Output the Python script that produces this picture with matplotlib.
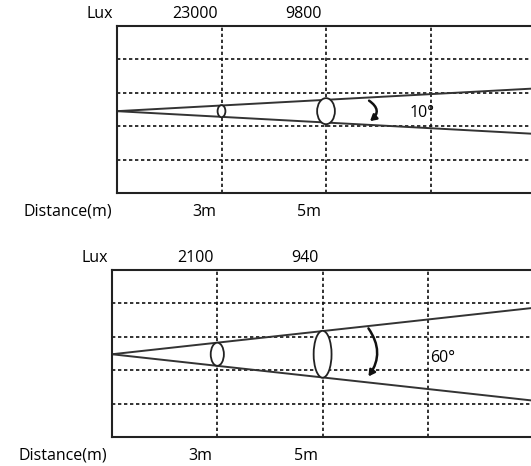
import matplotlib
matplotlib.use('Agg')
from matplotlib import pyplot as plt
from matplotlib.patches import Ellipse, FancyArrowPatch
import matplotlib.transforms as mtransforms

plt.rcParams['font.family'] = ['Open Sans', 'DejaVu Sans']

# values
distances = [3, 5]
dist_labels = ['3m', '5m']
lux_10 = ['23000', '9800']
lux_60 = ['2100', '940']
angles = ['10°', '60°']
grid_x = [3, 5, 7]
grid_y = [1, 2, 3, 4]

# beam: apex height, half-spread per metre, ellipse sizes (w, h) at 3m and 5m
apex_y = [2.45, 2.47]
spread = [0.085, 0.173]
ell_w = [[0.15, 0.34], [0.25, 0.34]]
ell_h = [[0.36, 0.78], [0.69, 1.40]]
arrow_ends = [[(5.78, 2.81), (5.80, 2.10)], [(5.84, 3.31), (5.84, 1.74)]]
arrow_rad = [-0.75, -0.38]
angle_pos = [(6.6, 2.4), (7.04, 2.37)]

FS = 11.5
W, H = 531, 466
fig = plt.figure(figsize=(W / 100, H / 100), dpi=100)

# axes boxes in pixels: left, top, bottom, px per metre
boxes = [(117, 26, 193, 52.25), (112, 269.5, 437, 52.65)]
lux_sets = [lux_10, lux_60]


def draw_panel(i):
    left, top, bottom, ppm = boxes[i]
    right = left + 8 * ppm
    ax = fig.add_axes([left / W, (H - bottom) / H, (right - left) / W, (bottom - top) / H])
    ax.set_xlim(1, 9)
    ax.set_ylim(0, 5)
    ax.set_xticks([])
    ax.set_yticks([])
    for s in ax.spines.values():
        s.set_linewidth(1.5)
        s.set_color('#222222')
    for gx in grid_x:
        ax.axvline(gx, color='#111111', lw=1.2, ls=(0, (2, 1.6)))
    for gy in grid_y:
        ax.axhline(gy, color='#111111', lw=1.2, ls=(0, (2, 1.6)))

    # beam lines
    x_end = 9.5
    for sign in (1, -1):
        ax.plot([1, x_end], [apex_y[i], apex_y[i] + sign * spread[i] * (x_end - 1)],
                color='#333333', lw=1.4, clip_on=True)

    for k, d in enumerate(distances):
        yc = apex_y[i]
        ax.add_patch(Ellipse((d, yc), ell_w[i][k], ell_h[i][k], fill=True, fc='white',
                             ec='#222222', lw=1.3, zorder=3))

    a = FancyArrowPatch(arrow_ends[i][0], arrow_ends[i][1],
                        connectionstyle='arc3,rad=%s' % arrow_rad[i],
                        arrowstyle='-|>,head_length=3.5,head_width=2', lw=1.8,
                        color='#111111', mutation_scale=1, zorder=4)
    ax.add_patch(a)
    ax.text(angle_pos[i][0], angle_pos[i][1], angles[i], fontsize=FS, va='center', ha='left')

    trans = mtransforms.blended_transform_factory(ax.transData, ax.transAxes)
    above = 1 + 12 / (bottom - top)
    below = -19 / (bottom - top)
    for k, d in enumerate(distances):
        off = 4 / ppm
        ax.text(d - off, above, lux_sets[i][k], transform=trans, ha='right', va='center', fontsize=FS)
        ax.text(d - off - 1 / ppm, below, dist_labels[k], transform=trans, ha='right', va='center',
                fontsize=FS)
    ax.text(1 - 4 / ppm, above, 'Lux', transform=trans, ha='right', va='center', fontsize=FS)
    ax.text(1 - 5 / ppm, below, 'Distance(m)', transform=trans, ha='right', va='center', fontsize=FS)


draw_panel(0)
draw_panel(1)

fig.savefig('out.png', dpi=100)
